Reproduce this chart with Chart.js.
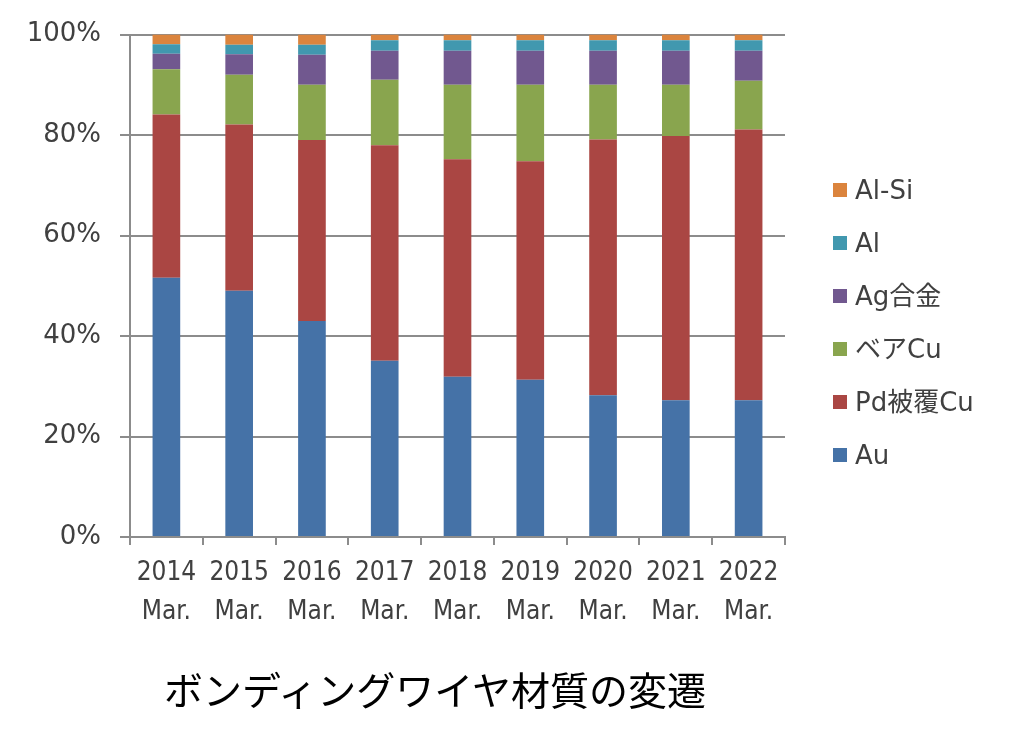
<!DOCTYPE html>
<html lang="ja">
<head>
<meta charset="utf-8">
<title>ボンディングワイヤ材質の変遷</title>
<script src="https://cdn.jsdelivr.net/npm/chart.js@4.4.1/dist/chart.umd.min.js"></script>
<style>
  body { margin: 0; background: #fff; }
  #wrap { position: relative; width: 1011px; height: 733px; }
  #chart { position: absolute; left: 0; top: 0; }
  #title {
    position: absolute; left: 0; top: 669px; width: 870px;
    text-align: center; font: 39px/39px "Noto Sans CJK JP", sans-serif; color: #000;
  }
  .legend-item {
    position: absolute; left: 833px; height: 30px; line-height: 30px;
    font: 26px/30px "DejaVu Sans", "Noto Sans CJK JP", sans-serif; color: #404040; white-space: nowrap;
  }
  .legend-item i {
    position: absolute; left: 0; top: 8px; width: 14px; height: 14px;
  }
  .legend-item span { position: absolute; left: 22px; top: 0; }
</style>
</head>
<body>
<div id="wrap">
  <canvas id="chart" width="1011" height="733"></canvas>
  <div id="legend"></div>
  <div id="title">ボンディングワイヤ材質の変遷</div>
</div>
<script>
// categories
const years = ["2014", "2015", "2016", "2017", "2018", "2019", "2020", "2021", "2022"];
const monthLabel = "Mar.";
const yTicks = [0, 20, 40, 60, 80, 100];

// share of each wire material (%)
const au      = [51.6, 49.0, 43.0, 35.1, 31.9, 31.3, 28.2, 27.2, 27.2];
const pdCu    = [32.5, 33.1, 36.0, 42.9, 43.3, 43.5, 50.9, 52.6, 53.9];
const bareCu  = [9.0, 9.9, 11.0, 13.0, 14.8, 15.2, 10.9, 10.2, 9.7];
const agAlloy = [3.1, 4.1, 6.0, 5.8, 6.8, 6.8, 6.8, 6.8, 6.0];
const al      = [1.9, 1.9, 2.0, 2.1, 2.1, 2.1, 2.1, 2.1, 2.1];
const alSi    = [1.9, 2.0, 2.0, 1.1, 1.1, 1.1, 1.1, 1.1, 1.1];

const seriesNames = ["Au", "Pd被覆Cu", "ベアCu", "Ag合金", "Al", "Al-Si"];
const seriesColors = ["#4572A7", "#AA4643", "#89A54E", "#71588F", "#4198AF", "#DB843D"];
const seriesData = [au, pdCu, bareCu, agAlloy, al, alSi];

const axisColor = "#8c8c8c";
const textColor = "#404040";

const ctx = document.getElementById("chart").getContext("2d");

const chart = new Chart(ctx, {
  type: "bar",
  data: {
    labels: years.map((y) => [y, monthLabel]),
    datasets: seriesNames.map((name, i) => ({
      label: name,
      data: seriesData[i],
      backgroundColor: seriesColors[i],
      borderWidth: 0,
      barPercentage: 0.38,
      categoryPercentage: 1.0,
    })),
  },
  options: {
    responsive: false,
    animation: false,
    layout: {
      padding: { left: 0, top: 31, right: 226, bottom: 0 },
    },
    plugins: {
      legend: { display: false },
      tooltip: { enabled: false },
    },
    scales: {
      x: {
        stacked: true,
        border: { color: axisColor, width: 2 },
        grid: {
          offset: true,
          drawOnChartArea: false,
          color: axisColor,
          lineWidth: 2,
          tickLength: 8,
        },
        ticks: {
          color: textColor,
          padding: 8,
          maxRotation: 0,
          font: { family: '"DejaVu Sans Condensed", "Liberation Sans"', size: 26, lineHeight: 1.52 },
        },
        afterFit: (scale) => {
          scale.height = 196;
        },
      },
      y: {
        stacked: true,
        min: 0,
        max: 100,
        border: { color: axisColor, width: 2 },
        grid: {
          color: axisColor,
          lineWidth: 2,
          tickLength: 10,
        },
        afterBuildTicks: (scale) => {
          scale.ticks = yTicks.map((v) => ({ value: v }));
        },
        ticks: {
          color: textColor,
          padding: 19,
          font: { family: '"DejaVu Sans"', size: 26 },
          callback: (v) => v + "%",
        },
        afterFit: (scale) => {
          scale.width = 130;
        },
      },
    },
  },
});

// legend on the right, top item is the top of the stack
const legendEl = document.getElementById("legend");
const legendTop = 175;
const legendStep = 53;
seriesNames.slice().reverse().forEach((name, k) => {
  const idx = seriesNames.indexOf(name);
  const item = document.createElement("div");
  item.className = "legend-item";
  item.style.top = (legendTop + k * legendStep) + "px";
  const box = document.createElement("i");
  box.style.background = seriesColors[idx];
  const txt = document.createElement("span");
  txt.textContent = name;
  item.appendChild(box);
  item.appendChild(txt);
  legendEl.appendChild(item);
});
</script>
</body>
</html>
